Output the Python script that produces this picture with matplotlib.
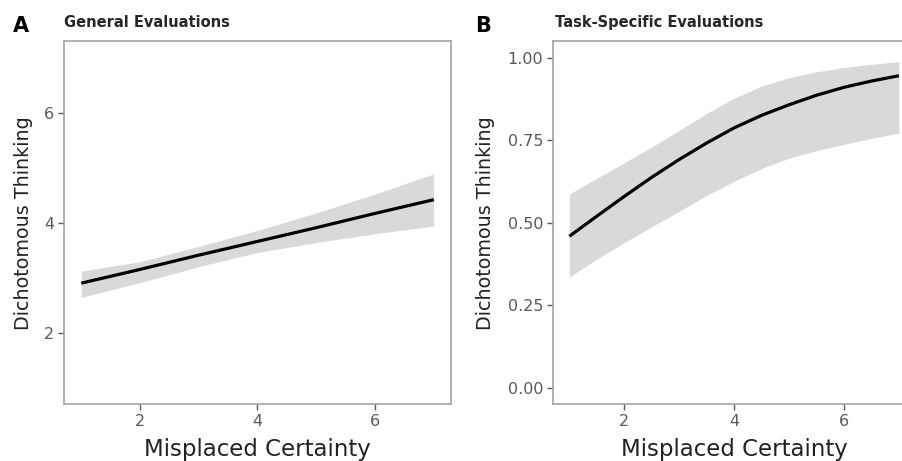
import matplotlib
matplotlib.use("Agg")
import matplotlib.pyplot as plt


FIG_W, FIG_H = 903, 461

# Panel A: general evaluations (linear fit with 95% band)
general_x = [1, 2, 3, 4, 5, 6, 7]
general_fit = [2.90, 3.15, 3.41, 3.66, 3.91, 4.17, 4.42]
general_upper = [3.12, 3.29, 3.57, 3.86, 4.18, 4.52, 4.89]
general_lower = [2.64, 2.91, 3.20, 3.46, 3.64, 3.80, 3.94]

# Panel B: task-specific evaluations (logistic fit with 95% band)
task_x = [1, 1.5, 2, 2.5, 3, 3.5, 4, 4.5, 5, 5.5, 6, 6.5, 7]
task_fit = [0.459, 0.520, 0.580, 0.638, 0.692, 0.742, 0.788,
            0.826, 0.858, 0.887, 0.911, 0.930, 0.946]
task_upper = [0.587, 0.635, 0.682, 0.730, 0.780, 0.832, 0.878,
              0.915, 0.940, 0.958, 0.971, 0.981, 0.989]
task_lower = [0.335, 0.390, 0.440, 0.488, 0.535, 0.583, 0.626,
              0.665, 0.696, 0.719, 0.738, 0.756, 0.772]

x_ticks = [2, 4, 6]
general_y_ticks = [2, 4, 6]
task_y_ticks = [0.00, 0.25, 0.50, 0.75, 1.00]

X_LABEL = "Misplaced Certainty"
Y_LABEL = "Dichotomous Thinking"

SPINE = "#a3a3a3"
TICK = "#595959"
BAND = "#d9d9d9"


def px_box(left, top, right, bottom):
    return [left / FIG_W, 1 - bottom / FIG_H,
            (right - left) / FIG_W, (bottom - top) / FIG_H]


def style_axes(ax):
    for side in ax.spines.values():
        side.set_color(SPINE)
        side.set_linewidth(1.2)
    ax.tick_params(direction="out", length=4, width=1.0, color=TICK,
                   labelcolor=TICK, labelsize=11.5, pad=3)


def draw_panel(ax, x, fit, lower, upper, y_ticks, y_fmt, ylim):
    ax.fill_between(x, lower, upper, color=BAND, linewidth=0)
    ax.plot(x, fit, color="black", linewidth=2.3, solid_capstyle="butt")
    ax.set_xlim(0.7, 7.3)
    ax.set_ylim(*ylim)
    ax.set_xticks(x_ticks)
    ax.set_yticks(y_ticks)
    ax.set_yticklabels([y_fmt.format(v) for v in y_ticks])
    ax.set_xlabel(X_LABEL, fontsize=16.5, color="#222222")
    ax.set_ylabel(Y_LABEL, fontsize=13.8, color="#222222")
    style_axes(ax)


fig = plt.figure(figsize=(FIG_W / 100, FIG_H / 100), dpi=100)

ax_a = fig.add_axes(px_box(63.6, 41.5, 451.4, 404))
draw_panel(ax_a, general_x, general_fit, general_lower, general_upper,
           general_y_ticks, "{:g}", (0.7, 7.3))
ax_a.xaxis.set_label_coords(0.5, -0.095)
ax_a.yaxis.set_label_coords(-0.078, 0.5)

# panel B runs past the right edge of the image, as in the source
ax_b = fig.add_axes(px_box(552.9, 41.5, 915.4, 404))
draw_panel(ax_b, task_x, task_fit, task_lower, task_upper,
           task_y_ticks, "{:.2f}", (-0.05, 1.05))
ax_b.xaxis.set_label_coords(0.5, -0.095)
ax_b.yaxis.set_label_coords(-0.161, 0.5)

fig.text(13 / FIG_W, 1 - 31.7 / FIG_H, "A", fontsize=15, fontweight="bold",
         color="black", va="baseline", ha="left")
fig.text(63.6 / FIG_W, 1 - 26.7 / FIG_H, "General Evaluations", fontsize=10.5,
         fontweight="bold", color="#262626", va="baseline", ha="left")
fig.text(475 / FIG_W, 1 - 31.7 / FIG_H, "B", fontsize=15, fontweight="bold",
         color="black", va="baseline", ha="left")
fig.text(555 / FIG_W, 1 - 26.7 / FIG_H, "Task-Specific Evaluations", fontsize=10.5,
         fontweight="bold", color="#262626", va="baseline", ha="left")

fig.savefig("out.png", dpi=100)
